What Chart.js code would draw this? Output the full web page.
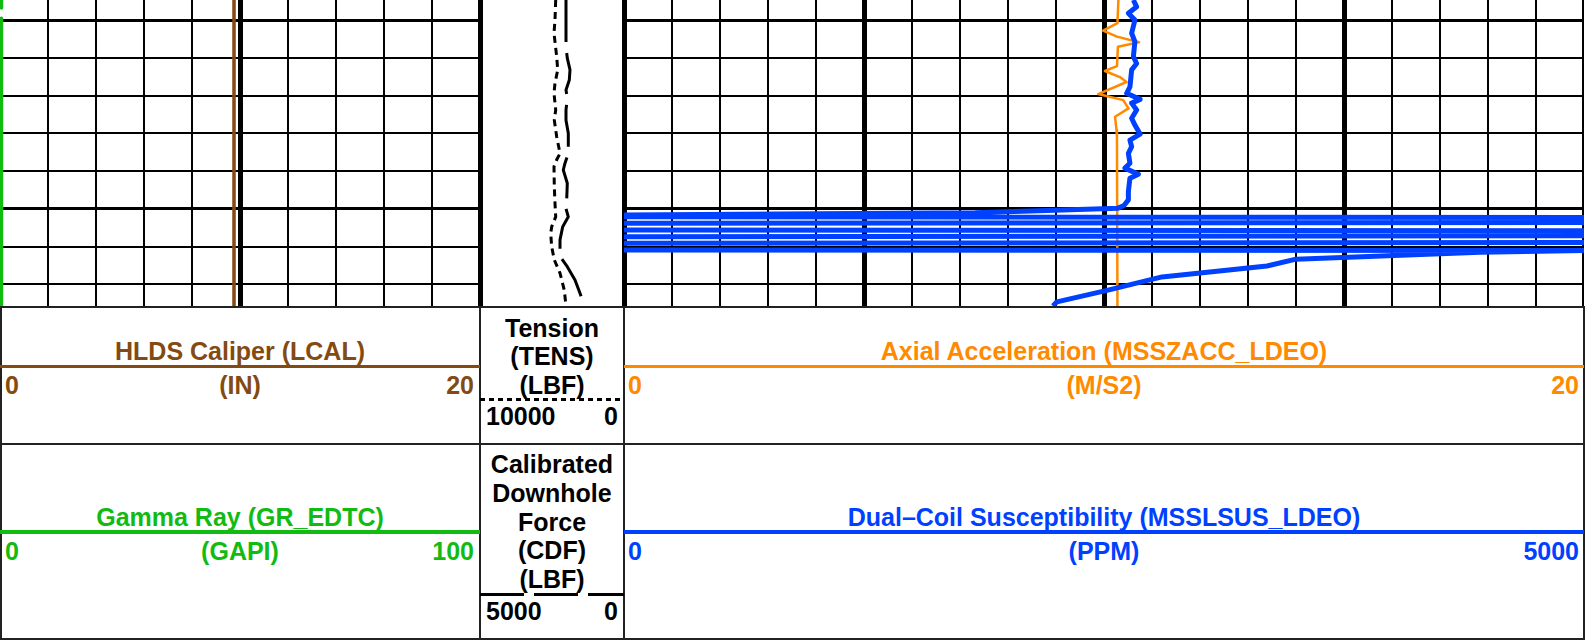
<!DOCTYPE html>
<html>
<head>
<meta charset="utf-8">
<title>Log tracks</title>
<script src="https://cdn.jsdelivr.net/npm/chart.js@4.4.1/dist/chart.umd.min.js"></script>
<style>
  html, body { margin: 0; padding: 0; background: #fff; }
  body {
    width: 1596px; height: 644px; position: relative; overflow: hidden;
    font-family: "Liberation Sans", Arial, Helvetica, sans-serif;
    font-weight: bold; font-size: 25px; color: #000;
  }
  canvas { position: absolute; top: 0; }
  .hline { position: absolute; height: 2px; background: #222; }
  .vline { position: absolute; width: 2px; background: #222; }
  .txt { position: absolute; line-height: 28.6px; white-space: nowrap; }
  .center { text-align: center; }
  .right { text-align: right; }
</style>
</head>
<body>
<canvas id="trackLeft" width="480" height="306" style="left:0"></canvas>
<canvas id="trackMid" width="144" height="306" style="left:480px"></canvas>
<canvas id="trackRight" width="960" height="306" style="left:624px"></canvas>

<!-- header frame -->
<div class="hline" style="left:0;top:306px;width:1585px"></div>
<div class="hline" style="left:0;top:443px;width:1585px"></div>
<div class="hline" style="left:0;top:638px;width:1585px"></div>
<div class="vline" style="left:0;top:306px;height:334px"></div>
<div class="vline" style="left:479px;top:306px;height:334px"></div>
<div class="vline" style="left:623px;top:306px;height:334px"></div>
<div class="vline" style="left:1583px;top:306px;height:334px"></div>

<!-- row 1 -->
<div class="txt center" style="left:0;width:480px;top:337px;color:#834a12">HLDS Caliper (LCAL)</div>
<div style="position:absolute;left:0;top:365px;width:480px;height:3px;background:#834a12"></div>
<div class="txt" style="left:5px;top:371px;color:#834a12">0</div>
<div class="txt center" style="left:0;width:480px;top:371px;color:#834a12">(IN)</div>
<div class="txt right" style="left:0;width:474px;top:371px;color:#834a12">20</div>

<div class="txt center" style="left:480px;width:144px;top:313.5px">Tension<br>(TENS)<br>(LBF)</div>
<div style="position:absolute;left:480px;top:398px;width:144px;height:3px;background:repeating-linear-gradient(90deg,#000 0 5px,transparent 5px 9px)"></div>
<div class="txt" style="left:486px;top:402px">10000</div>
<div class="txt right" style="left:480px;width:138px;top:402px">0</div>

<div class="txt center" style="left:624px;width:960px;top:337px;color:#ff8a00">Axial Acceleration (MSSZACC_LDEO)</div>
<div style="position:absolute;left:624px;top:365px;width:960px;height:3px;background:#ff8a00"></div>
<div class="txt" style="left:628px;top:371px;color:#ff8a00">0</div>
<div class="txt center" style="left:624px;width:960px;top:371px;color:#ff8a00">(M/S2)</div>
<div class="txt right" style="left:624px;width:955px;top:371px;color:#ff8a00">20</div>

<!-- row 2 -->
<div class="txt center" style="left:0;width:480px;top:503px;color:#11bb11">Gamma Ray (GR_EDTC)</div>
<div style="position:absolute;left:0;top:530px;width:480px;height:4px;background:#11bb11"></div>
<div class="txt" style="left:5px;top:537px;color:#11bb11">0</div>
<div class="txt center" style="left:0;width:480px;top:537px;color:#11bb11">(GAPI)</div>
<div class="txt right" style="left:0;width:474px;top:537px;color:#11bb11">100</div>

<div class="txt center" style="left:480px;width:144px;top:450px;line-height:28.75px">Calibrated<br>Downhole<br>Force<br>(CDF)<br>(LBF)</div>
<div style="position:absolute;left:480px;top:593px;width:144px;height:3px;background:repeating-linear-gradient(90deg,#000 0 44px,transparent 44px 54px)"></div>
<div class="txt" style="left:486px;top:597px">5000</div>
<div class="txt right" style="left:480px;width:138px;top:597px">0</div>

<div class="txt center" style="left:624px;width:960px;top:503px;color:#0040ff">Dual–Coil Susceptibility (MSSLSUS_LDEO)</div>
<div style="position:absolute;left:624px;top:530px;width:960px;height:4px;background:#0040ff"></div>
<div class="txt" style="left:628px;top:537px;color:#0040ff">0</div>
<div class="txt center" style="left:624px;width:960px;top:537px;color:#0040ff">(PPM)</div>
<div class="txt right" style="left:624px;width:955px;top:537px;color:#0040ff">5000</div>

<script>
// Depth window and depth grid lines (thick every 5)
const DEPTH_TOP = 99.47;
const DEPTH_BOTTOM = 107.57;
const DEPTH_LINES = [100, 101, 102, 103, 104, 105, 106, 107];

// Vertical grid positions per track (in the gridded curve's units)
const LEFT_TICKS = [2, 4, 6, 8, 10, 12, 14, 16, 18, 20];
const LEFT_THICK = [10, 20];
const MID_TICKS = [0, 10000];
const RIGHT_TICKS = [0, 1, 2, 3, 4, 5, 6, 7, 8, 9, 10, 11, 12, 13, 14, 15, 16, 17, 18, 19, 20];
const RIGHT_THICK = [0, 5, 10, 15, 20];

// HLDS Caliper (IN)
const CAL_DEPTH = [99.47, 103.5, 107.57];
const CAL_VAL = [9.75, 9.75, 9.75];

// Gamma Ray (GAPI)
const GR_DEPTH = [99.47, 99.68, 99.8, 99.95, 107.57];
const GR_VAL = [0.3, 0.3, null, 0.3, 0.3];

// Tension (LBF)
const TENS_DEPTH = [99.47, 100.00, 100.35, 100.97, 101.32, 101.67, 101.94, 102.38, 102.65, 103.09, 103.53, 103.70,
    103.88, 104.41, 104.85, 105.21, 105.47, 105.65, 106.00, 106.35, 106.70, 107.15, 107.57];
const TENS_VAL = [4743, 4792, 4861, 4674, 4604, 4792, 4861, 4743, 4840, 4674, 4444, 4674,
    4861, 4840, 4792, 4743, 5021, 5090, 5021, 4840, 4444, 4146, 4028];

// Calibrated Downhole Force (LBF)
const CDF_DEPTH = [99.47, 100.71, 101.01, 101.32, 101.59, 101.85, 102.07, 102.38, 102.65, 103.00, 103.53, 103.79,
    103.97, 104.32, 104.76, 104.90, 105.21, 105.47, 105.82, 106.26, 106.53, 106.88, 107.23, 107.57];
const CDF_VAL = [2014, 2014, 1969, 1875, 1899, 2014, 1969, 2014, 2014, 1934, 1934, 2049,
    2108, 1969, 1990, 2049, 1934, 2128, 2222, 2222, 1969, 1701, 1528, 1378];

// Axial Acceleration (M/S2)
const ACC_DEPTH = [99.47, 100.08, 100.28, 100.44, 100.59, 100.71, 101.22, 101.35, 101.51, 101.64, 101.96, 102.12,
    102.34, 102.56, 102.91, 103.09, 107.57];
const ACC_VAL = [10.30, 10.28, 9.98, 10.27, 10.73, 10.29, 10.27, 10.02, 10.33, 10.47, 9.88, 10.40,
    10.51, 10.23, 10.26, 10.27, 10.28];

// Dual-Coil Susceptibility (PPM) - wraps across the track (null = pen up)
const SUS_DEPTH = [99.47, 99.65, 99.82, 100.00, 100.35, 100.57, 100.97, 101.15, 101.32, 101.77,
    101.94, 102.10, 102.20, 102.38, 102.60, 102.78, 103.02, 103.18, 103.35, 103.53,
    103.79, 103.92, 104.08, 104.19, 104.54, 104.76, 104.91, 104.98, 105.10, 105.16,
    105.21, 105.23, 105.30, 105.38, 105.36, 105.47, 105.56, 105.58, 105.65, 105.74, 105.71,
    105.80, 105.91, 105.89, 106.00, 106.09, 106.10,
    106.15, 106.33, 106.51, 106.80, 107.15, 107.46, 107.57];
const SUS_VAL = [2653, 2670, 2627, 2661, 2644, 2661, 2653, 2670, 2644, 2635,
    2618, 2688, 2644, 2670, 2644, 2661, 2688, 2635, 2644, 2627,
    2635, 2609, 2679, 2635, 2627, 2627, 2604, 2573, 1828, 0,
    0, 5000, null, 0, 5000, null, 0, 5000, null, 0, 5000,
    null, 0, 5000, null, 0, 5000,
    4458, 3500, 3349, 2802, 2521, 2255, 2234];

function pairs(depths, values) {
    return depths.map((d, i) => ({ x: values[i], y: d }));
}

function depthScale(showGrid) {
    return {
        type: 'linear',
        reverse: true,
        min: DEPTH_TOP,
        max: DEPTH_BOTTOM,
        ticks: { display: false },
        border: { display: false },
        grid: {
            display: showGrid,
            drawTicks: false,
            color: '#000',
            lineWidth: c => (c.tick && c.tick.value % 5 === 0) ? 3 : 2
        },
        afterBuildTicks: s => { s.ticks = DEPTH_LINES.map(v => ({ value: v })); },
        afterFit: s => { s.width = 0; }
    };
}

function valueScale(min, max, reverse, ticks, thick) {
    const scale = {
        type: 'linear',
        position: 'bottom',
        min: min,
        max: max,
        reverse: reverse,
        display: !!ticks,
        ticks: { display: false },
        border: { display: false },
        afterFit: s => { s.height = 0; }
    };
    if (ticks) {
        scale.grid = {
            drawTicks: false,
            color: '#000',
            lineWidth: c => (c.tick && thick.includes(c.tick.value)) ? 5 : 2
        };
        scale.afterBuildTicks = s => { s.ticks = ticks.map(v => ({ value: v })); };
    }
    return scale;
}

function curve(data, axis, color, width, dash) {
    return {
        data: data,
        xAxisID: axis,
        yAxisID: 'y',
        showLine: true,
        spanGaps: false,
        pointRadius: 0,
        borderColor: color,
        borderWidth: width,
        borderDash: dash || [],
        borderJoinStyle: 'round',
        fill: false
    };
}

function makeTrack(id, datasets, scales) {
    new Chart(document.getElementById(id), {
        type: 'scatter',
        data: { datasets: datasets },
        options: {
            responsive: false,
            animation: false,
            devicePixelRatio: 1,
            events: [],
            layout: { padding: 0 },
            plugins: { legend: { display: false }, tooltip: { enabled: false } },
            scales: scales
        }
    });
}

// Left track: caliper + gamma ray
makeTrack('trackLeft', [
    curve(pairs(GR_DEPTH, GR_VAL), 'xg', '#11bb11', 3.5),
    curve(pairs(CAL_DEPTH, CAL_VAL), 'x', '#834a12', 3.5)
], {
    x: valueScale(0, 20, false, LEFT_TICKS, LEFT_THICK),
    xg: valueScale(0, 100, false, null, null),
    y: depthScale(true)
});

// Middle track: tension + CDF, both reversed
makeTrack('trackMid', [
    curve(pairs(TENS_DEPTH, TENS_VAL), 'x', '#000', 3, [7, 5]),
    curve(pairs(CDF_DEPTH, CDF_VAL), 'xc', '#000', 3, [42, 11])
], {
    x: valueScale(0, 10000, true, MID_TICKS, MID_TICKS),
    xc: valueScale(0, 5000, true, null, null),
    y: depthScale(false)
});

// Right track: susceptibility on top of axial acceleration
makeTrack('trackRight', [
    curve(pairs(SUS_DEPTH, SUS_VAL), 'xs', '#0040ff', 5),
    curve(pairs(ACC_DEPTH, ACC_VAL), 'x', '#ff8a00', 2.5)
], {
    x: valueScale(0, 20, false, RIGHT_TICKS, RIGHT_THICK),
    xs: valueScale(0, 5000, false, null, null),
    y: depthScale(true)
});
</script>
</body>
</html>
